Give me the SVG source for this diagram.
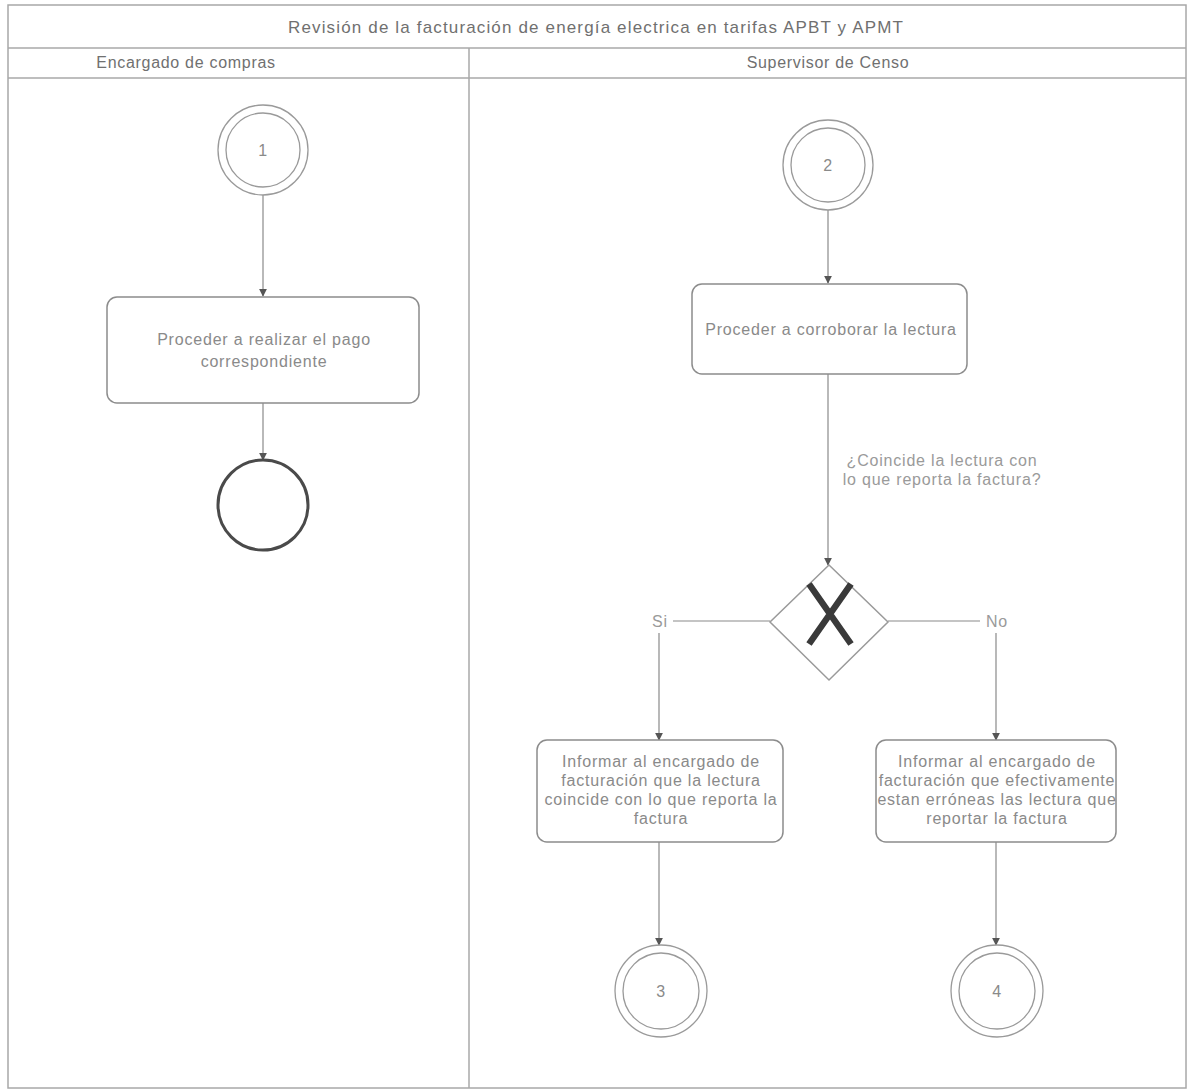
<svg xmlns="http://www.w3.org/2000/svg" width="1189" height="1091" viewBox="0 0 1189 1091">
<defs>
<style>
.frame{fill:none;stroke:#a8a8a8;stroke-width:1.5}
.t{font-family:"Liberation Sans",Arial,sans-serif;font-size:16px;fill:#8a8a8a;text-anchor:middle;letter-spacing:0.8px}
.hd{font-family:"Liberation Sans",Arial,sans-serif;font-size:16px;fill:#707070;text-anchor:middle;letter-spacing:0.7px}
.ttl{font-family:"Liberation Sans",Arial,sans-serif;font-size:17px;fill:#707070;text-anchor:middle;letter-spacing:1.15px}
.box{fill:#fff;stroke:#8c8c8c;stroke-width:1.5}
.ring{fill:#fff;stroke:#9a9a9a;stroke-width:1.3}
.conn{fill:none;stroke:#8a8a8a;stroke-width:1.2}
.lbl{font-family:"Liberation Sans",Arial,sans-serif;font-size:16px;fill:#9a9a9a;letter-spacing:0.8px}
</style>
<marker id="arr" viewBox="0 0 10 10" refX="9" refY="5" markerWidth="8" markerHeight="8" orient="auto" markerUnits="userSpaceOnUse">
<path d="M0,0 L10,5 L0,10 z" fill="#555"/>
</marker>
</defs>
<rect width="1189" height="1091" fill="#fff"/>
<g id="pool">
<rect class="frame" x="8" y="5" width="1178" height="1083"/>
<line class="frame" x1="8" y1="48" x2="1186" y2="48"/>
<line class="frame" x1="8" y1="78" x2="1186" y2="78"/>
<line class="frame" x1="469" y1="48" x2="469" y2="1088"/>
<text class="ttl" x="596" y="33">Revisión de la facturación de energía electrica en tarifas APBT y APMT</text>
<text class="hd" x="186" y="68">Encargado de compras</text>
<text class="hd" x="828" y="68">Supervisor de Censo</text>
</g>
<g id="connectors">
<line class="conn" x1="263" y1="195" x2="263" y2="296" marker-end="url(#arr)"/>
<line class="conn" x1="263" y1="403" x2="263" y2="460" marker-end="url(#arr)"/>
<line class="conn" x1="828" y1="210" x2="828" y2="283" marker-end="url(#arr)"/>
<line class="conn" x1="828" y1="374" x2="828" y2="565" marker-end="url(#arr)"/>
<polyline class="conn" points="770,621 659,621 659,740" marker-end="url(#arr)"/>
<polyline class="conn" points="888,621 996,621 996,740" marker-end="url(#arr)"/>
<line class="conn" x1="659" y1="842" x2="659" y2="945" marker-end="url(#arr)"/>
<line class="conn" x1="996" y1="842" x2="996" y2="945" marker-end="url(#arr)"/>
<rect x="645" y="609" width="28" height="24" fill="#fff"/>
<rect x="980" y="609" width="34" height="24" fill="#fff"/>
<text class="lbl" x="660" y="627" text-anchor="middle">Si</text>
<text class="lbl" x="997" y="627" text-anchor="middle">No</text>
<text class="lbl" x="942" y="466" text-anchor="middle">¿Coincide la lectura con</text>
<text class="lbl" x="942" y="485" text-anchor="middle">lo que reporta la factura?</text>
</g>
<g id="start1">
<circle class="ring" cx="263" cy="150" r="45"/>
<circle class="ring" cx="263" cy="150" r="37"/>
<text class="t" x="263" y="156">1</text>
</g>
<g id="task1">
<rect class="box" x="107" y="297" width="312" height="106" rx="10"/>
<text class="t" x="264" y="345">Proceder a realizar el pago</text>
<text class="t" x="264" y="367">correspondiente</text>
</g>
<g id="end1">
<circle cx="263" cy="505" r="45" fill="#fff" stroke="#4a4a4a" stroke-width="3"/>
</g>
<g id="start2">
<circle class="ring" cx="828" cy="165" r="45"/>
<circle class="ring" cx="828" cy="165" r="37"/>
<text class="t" x="828" y="171">2</text>
</g>
<g id="task2">
<rect class="box" x="692" y="284" width="275" height="90" rx="10"/>
<text class="t" x="831" y="335">Proceder a corroborar la lectura</text>
</g>
<g id="gateway">
<polygon points="829,565 888,622 829,680 770,622" fill="#fff" stroke="#9a9a9a" stroke-width="1.5"/>
<path d="M809,584 L851,644 M851,584 L809,644" stroke="#3a3a3a" stroke-width="6.5" fill="none"/>
</g>
<g id="task3">
<rect class="box" x="537" y="740" width="246" height="102" rx="10"/>
<text class="t" x="661" y="767">Informar al encargado de</text>
<text class="t" x="661" y="786">facturación que la lectura</text>
<text class="t" x="661" y="805">coincide con lo que reporta la</text>
<text class="t" x="661" y="824">factura</text>
</g>
<g id="task4">
<rect class="box" x="876" y="740" width="240" height="102" rx="10"/>
<text class="t" x="997" y="767">Informar al encargado de</text>
<text class="t" x="997" y="786">facturación que efectivamente</text>
<text class="t" x="997" y="805">estan erróneas las lectura que</text>
<text class="t" x="997" y="824">reportar la factura</text>
</g>
<g id="end3">
<circle class="ring" cx="661" cy="991" r="46"/>
<circle class="ring" cx="661" cy="991" r="38"/>
<text class="t" x="661" y="997">3</text>
</g>
<g id="end4">
<circle class="ring" cx="997" cy="991" r="46"/>
<circle class="ring" cx="997" cy="991" r="38"/>
<text class="t" x="997" y="997">4</text>
</g>
</svg>
